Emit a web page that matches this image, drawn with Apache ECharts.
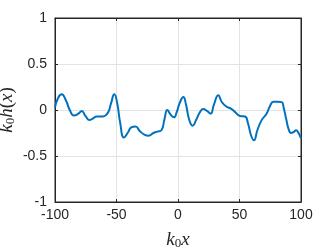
<!DOCTYPE html>
<html><head><meta charset="utf-8">
<script src="https://cdn.jsdelivr.net/npm/echarts@6/dist/echarts.min.js"></script>
<style>html,body{margin:0;padding:0;background:#fff}#c{width:332px;height:249px}</style>
</head><body><div id="c"></div>
<script>
var xs = [-100,-97.5,-94.6,-91,-88,-84.6,-81,-78.3,-75,-72,-69,-66,-61,-57,-54.5,-51.8,-49.5,-47,-44,-41,-38,-34.5,-31,-27,-24,-20,-17,-13.5,-11,-8.7,-6,-3.3,-1,1.5,4.3,6.5,9,11.9,15,18,20.6,23.5,26.6,29,32.8,35.5,39,43.6,47,50.4,54.5,57,59.5,61.8,64.5,68,72,75,77.5,81,84.3,86,88,90,92,94,96,98,100];
var ys = [0.03,0.13,0.17,0.1,0.0,-0.06,-0.04,-0.01,-0.07,-0.11,-0.09,-0.07,-0.07,-0.03,0.07,0.17,0.08,-0.14,-0.3,-0.25,-0.19,-0.18,-0.23,-0.27,-0.28,-0.25,-0.235,-0.22,-0.1,0.0,-0.05,-0.08,-0.02,0.08,0.14,0.06,-0.1,-0.17,-0.1,-0.02,0.01,-0.01,-0.04,0.05,0.16,0.09,0.04,0.01,-0.03,-0.065,-0.07,-0.15,-0.28,-0.33,-0.22,-0.11,-0.04,0.05,0.09,0.09,0.085,0.02,-0.1,-0.21,-0.25,-0.24,-0.22,-0.25,-0.31];
var xTicks = [-100,-50,0,50,100];
var yTicks = [-1,-0.5,0,0.5,1];
var data = xs.map(function(x,i){return [x, ys[i]];});
var axColor = '#262626';
var lblFont = {color: axColor, fontFamily: 'Liberation Sans, Arial, sans-serif', fontSize: 14};
var chart = echarts.init(document.getElementById('c'), null, {renderer: 'canvas'});
var rich = {
  i: {fontFamily: 'Liberation Serif', fontStyle: 'italic', fontSize: 19, color: axColor},
  r: {fontFamily: 'Liberation Serif', fontSize: 19, color: axColor},
  s: {fontFamily: 'Liberation Serif', fontSize: 13, color: axColor, verticalAlign: 'bottom', padding: [7,0,0,0]}
};
chart.setOption({
  animation: false,
  grid: {left: 55, right: 31, top: 18, bottom: 47, containLabel: false, outerBoundsMode: 'none', show: true, borderColor: axColor, borderWidth: 1},
  xAxis: [{
    type: 'value', min: -100, max: 100, interval: 50,
    axisLine: {show: true, onZero: false, lineStyle: {color: axColor}},
    axisTick: {inside: true, length: 3, lineStyle: {color: axColor}},
    axisLabel: Object.assign({margin: 6, formatter: function(v){return xTicks.indexOf(v)>=0 ? String(v) : '';}}, lblFont),
    splitLine: {show: true, lineStyle: {color: '#e3e3e3'}},
    name: '{i|k}{s|0}{i|x}', nameLocation: 'middle', nameGap: 28, nameMoveOverlap: false,
    nameTextStyle: {rich: rich}
  },{
    type: 'value', position: 'top', min: -100, max: 100, interval: 50,
    axisLine: {show: true, onZero: false, lineStyle: {color: axColor}},
    axisTick: {inside: true, length: 3, lineStyle: {color: axColor}},
    axisLabel: {show: false}, splitLine: {show: false}
  }],
  yAxis: [{
    type: 'value', min: -1, max: 1, interval: 0.5,
    axisLine: {show: true, onZero: false, lineStyle: {color: axColor}},
    axisTick: {inside: true, length: 3, lineStyle: {color: axColor}},
    axisLabel: Object.assign({margin: 8, formatter: function(v){return yTicks.indexOf(v)>=0 ? String(v) : '';}}, lblFont),
    splitLine: {show: true, lineStyle: {color: '#e3e3e3'}},
    name: '{i|k}{s|0}{i|h}{r|(}{i|x}{r|)}', nameLocation: 'middle', nameGap: 38, nameRotate: 90, nameMoveOverlap: false,
    nameTextStyle: {rich: rich}
  },{
    type: 'value', position: 'right', min: -1, max: 1, interval: 0.5,
    axisLine: {show: true, onZero: false, lineStyle: {color: axColor}},
    axisTick: {inside: true, length: 3, lineStyle: {color: axColor}},
    axisLabel: {show: false}, splitLine: {show: false}
  }],
  series: [{
    type: 'line', data: data, smooth: 0.5, showSymbol: false,
    lineStyle: {color: '#0072BD', width: 2}
  }]
});
</script></body></html>
